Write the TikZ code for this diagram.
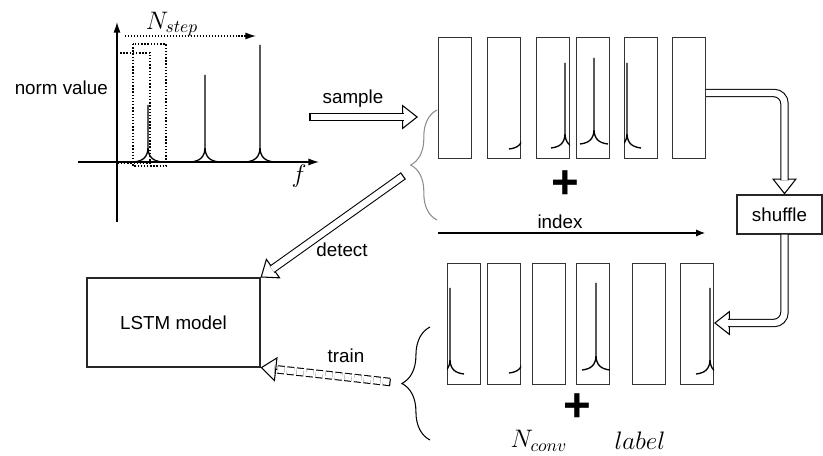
\documentclass[tikz,border=0pt]{standalone}
\usepackage{fontspec}
\setmainfont{Liberation Sans}
\usetikzlibrary{arrows.meta,calc,decorations.pathreplacing}

% block arrow with hollow head: start, end
\newcommand{\hollowarrow}[3][]{%
  \draw[headtip,#1] ($(#3)!12pt!(#2)$) -- (#3);
  \draw[hollow,#1] (#2) -- ($(#3)!8pt!(#2)$);
  \draw[line width=0.6pt,#1] ($(#2)!2.4pt!90:(#3)$) -- ($(#2)!2.4pt!-90:(#3)$);}

\begin{document}
\begin{tikzpicture}[x=0.02cm,y=-0.02cm,font=\fontsize{10.7}{13}\selectfont]
  \tikzset{frame/.style = {draw=black!80, line width=0.6pt, minimum width=0.66cm, minimum height=2.42cm, inner sep=0pt, anchor=north west}}
  \tikzset{box/.style = {draw=black!85, line width=0.6pt, inner sep=0pt}}
  \tikzset{hollow/.style = {double=white, double distance=3.6pt, line width=0.6pt}}
  \tikzset{headtip/.style = {line width=0.6pt, -{Triangle[open, length=9pt, width=14pt, fill=white]}}}
  \tikzset{window/.style = {densely dotted, line width=0.8pt}}
  \tikzset{brace/.style = {decorate, decoration={brace, amplitude=#1}, line width=0.6pt}}
  \tikzset{mathlabel/.style = {font=\fontsize{14}{16}\selectfont}}
  \tikzset{pics/spike/.style = {code = {\draw[line width=0.75pt] (-14,0) .. controls (-5,-1) and (0,-5) .. (0,-15) -- (0,-#1) (0,-15) .. controls (0,-5) and (5,-1) .. (14,0);}}}
  \useasboundingbox (0,0) rectangle (823,456);

  % spectrum
  \coordinate (yb) at (117,222);
  \coordinate (yt) at (117,22);
  \coordinate (xl) at (78,162);
  \coordinate (xr) at (319,162);
  \draw[line width=0.7pt, -{Latex[length=6pt,width=4pt]}] (yb) -- (yt);
  \draw[line width=0.7pt, -{Latex[length=6pt,width=4pt]}] (xl) -- (xr);
  \node[anchor=east] (norm) at (114,88) {norm value};
  \node[mathlabel] (f) at (299,176) {$f$};
  \pic at (148,162) {spike=57};
  \pic at (205,162) {spike=87};
  \pic at (260,162) {spike=117};
  \draw[window] (117,53) rectangle (150,163);
  \draw[window] (133,44) rectangle (166,166);
  \coordinate (ns0) at (125,36);
  \coordinate (ns1) at (256,36);
  \draw[densely dotted, line width=0.7pt, -{Latex[length=6pt,width=4pt]}] (ns0) -- (ns1);
  \node[mathlabel] (nstep) at (172,24) {$N_{step}$};

  % sampled frames
  \foreach \n/\x in {1/438,2/487,3/536,4/576,5/624,6/672}
    \node[frame] (t\n) at (\x,37) {};
  \begin{scope}
    \clip (t2.north west) rectangle (t2.south east);
    \pic at (523,149) {spike=80};
  \end{scope}
  \begin{scope}
    \clip (t3.north west) rectangle (t3.south east);
    \pic at (565,148) {spike=85};
  \end{scope}
  \pic at (594,144) {spike=86};
  \begin{scope}
    \clip (t5.north west) rectangle (t5.south east);
    \pic at (627,148) {spike=85};
  \end{scope}
  \node[font=\fontsize{27}{27}\selectfont\bfseries] (plusA) at (565,185) {+};
  \draw[brace=15pt, draw=black!45] (437,220) -- (437,110);

  \coordinate (smp0) at (310,117);
  \coordinate (smp1) at (418,117);
  \hollowarrow{smp0}{smp1}
  \node (sample) at (353,99) {sample};

  \coordinate (ix0) at (438,233);
  \coordinate (ix1) at (705,233);
  \draw[line width=0.6pt, -{Latex[length=5pt,width=4pt]}] (ix0) -- (ix1);
  \node (index) at (560,222) {index};

  % shuffle
  \node[box, minimum width=1.7cm, minimum height=0.78cm] (shuffle) at (779.5,214.5) {shuffle};
  \coordinate (inA) at ($(t6.north east)+(0,56)$);
  \coordinate (inB) at ($(shuffle.north)+(5,0)$);
  \draw[headtip] ($(inB)+(0,-21)$) -- (inB);
  \draw[hollow, rounded corners=6pt] (inA) -| ($(inB)+(0,-14)$);

  % training frames
  \foreach \n/\x in {1/447,2/487,3/532,4/576,5/632,6/680}
    \node[frame] (b\n) at (\x,263) {};
  \begin{scope}
    \clip (b1.north west) rectangle (b1.south east);
    \pic at (450,374) {spike=86};
  \end{scope}
  \begin{scope}
    \clip (b2.north west) rectangle (b2.south east);
    \pic at (523,373) {spike=80};
  \end{scope}
  \pic at (596,370) {spike=87};
  \begin{scope}
    \clip (b6.north west) rectangle (b6.south east);
    \pic at (710,374) {spike=86};
  \end{scope}
  \node[font=\fontsize{27}{27}\selectfont\bfseries] (plusB) at (577,408) {+};
  \node[mathlabel] (nconv) at (539,441) {$N_{conv}$};
  \node[mathlabel] (lbl) at (640,441) {$label$};
  \draw[brace=16pt] (430,440) -- (430,327);

  \coordinate (outA) at ($(shuffle.south)+(5,0)$);
  \coordinate (outB) at ($(b6.north east)+(0,60)$);
  \draw[headtip] ($(outB)+(21,0)$) -- (outB);
  \draw[hollow, rounded corners=6pt] (outA) |- ($(outB)+(14,0)$);

  % model
  \node[box, minimum width=3.46cm, minimum height=1.78cm] (lstm) at (173.5,322.5) {LSTM model};
  \coordinate (det0) at (403,176);
  \hollowarrow{det0}{lstm.north east}
  \node (detect) at (342,250) {detect};
  \coordinate (trn0) at (390,382);
  \hollowarrow[dash pattern=on 4pt off 1.5pt]{trn0}{lstm.south east}
  \node (train) at (346,356) {train};
\end{tikzpicture}
\end{document}
